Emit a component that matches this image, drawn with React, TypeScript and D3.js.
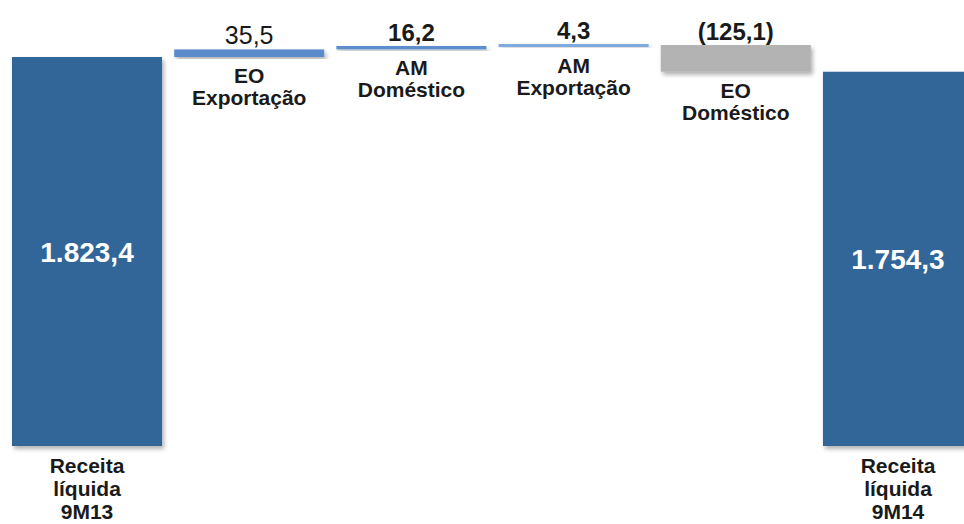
import React from "react";
import * as d3 from "d3";

const categories = ["Receita líquida 9M13", "EO Exportação", "AM Doméstico", "AM Exportação", "EO Doméstico", "Receita líquida 9M14"];
const categoryLines = [
  ["Receita", "líquida", "9M13"],
  ["EO", "Exportação"],
  ["AM", "Doméstico"],
  ["AM", "Exportação"],
  ["EO", "Doméstico"],
  ["Receita", "líquida", "9M14"],
];
const values = [1823.4, 35.5, 16.2, 4.3, -125.1, 1754.3];
const kinds = ["total", "delta", "delta", "delta", "delta", "total"];
const valueLabels = ["1.823,4", "35,5", "16,2", "4,3", "(125,1)", "1.754,3"];
const barColors = ["#336699", "#5B8BCB", "#5C8ECE", "#80A9DD", "#B3B3B3", "#336699"];

export default function App() {
  const W = 964;
  const H = 524;
  const x = d3.scaleBand<string>().domain(categories).range([12, 973]).paddingInner(0.075).paddingOuter(0);
  const y = d3.scaleLinear().domain([0, 1823.4]).range([446, 57]);

  let running = 0;
  const bars = values.map((v, i) => {
    let lo: number, hi: number;
    if (kinds[i] === "total") {
      lo = 0;
      hi = v;
      running = v;
    } else {
      const start = running;
      const end = running + v;
      lo = Math.min(start, end);
      hi = Math.max(start, end);
      running = end;
    }
    return { cat: categories[i], lo, hi, kind: kinds[i], i };
  });

  const font = "'Liberation Sans', Arial, sans-serif";

  return (
    <svg width={W} height={H} style={{ position: "absolute", left: 0, top: 0, background: "#fff" }} fontFamily={font}>
      <defs>
        <filter id="shadow" x="-10%" y="-10%" width="130%" height="130%">
          <feDropShadow dx="2" dy="3" stdDeviation="2" floodColor="#000" floodOpacity="0.3" />
        </filter>
      </defs>
      {bars.map((b) => {
        const x0 = x(b.cat)!;
        const bw = x.bandwidth();
        let yTop = y(b.hi);
        let yBot = y(b.lo);
        if (yBot - yTop < 3) {
          const mid = (yTop + yBot) / 2;
          yTop = mid - 1.5;
          yBot = mid + 1.5;
        }
        const cx = x0 + bw / 2;
        const lines = categoryLines[b.i];
        return (
          <g key={b.cat}>
            <rect x={x0} y={yTop} width={bw} height={yBot - yTop} fill={barColors[b.i]} filter="url(#shadow)" />
            {b.kind === "total" ? (
              <>
                <text x={cx} y={(yTop + yBot) / 2 + 10} textAnchor="middle" fill="#fff" fontWeight="bold" fontSize={28}>
                  {valueLabels[b.i]}
                </text>
                {lines.map((l, k) => (
                  <text key={k} x={cx} y={yBot + 27 + k * 23} textAnchor="middle" fill="#1a1a1a" fontWeight="bold" fontSize={21}>
                    {l}
                  </text>
                ))}
              </>
            ) : (
              <>
                <text x={cx} y={yTop - 5} textAnchor="middle" fill="#1a1a1a" fontWeight={b.i === 1 ? "normal" : "bold"} fontSize={b.i === 1 ? 25 : 24}>
                  {valueLabels[b.i]}
                </text>
                {lines.map((l, k) => (
                  <text key={k} x={cx} y={yBot + 26 + k * 22} textAnchor="middle" fill="#1a1a1a" fontWeight="bold" fontSize={21}>
                    {l}
                  </text>
                ))}
              </>
            )}
          </g>
        );
      })}
    </svg>
  );
}
